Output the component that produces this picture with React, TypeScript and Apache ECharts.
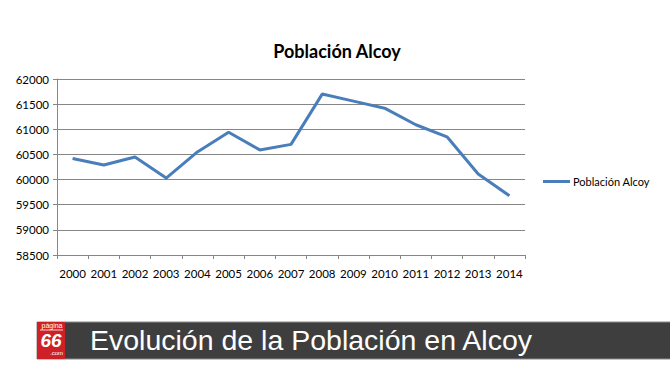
import React, { useEffect, useRef } from "react";
import * as echarts from "echarts";

const years = ["2000","2001","2002","2003","2004","2005","2006","2007","2008","2009","2010","2011","2012","2013","2014"];
const poblacion = [60420, 60290, 60450, 60030, 60550, 60940, 60590, 60700, 61700, 61560, 61420, 61090, 60850, 60110, 59680];
const seriesName = "Población Alcoy";
const chartTitle = "Población Alcoy";
const bannerText = "Evolución de la Población en Alcoy";

export default function App() {
  const ref = useRef<HTMLDivElement>(null);
  useEffect(() => {
    document.body.style.margin = "0";
    const chart = echarts.init(ref.current!, null, { renderer: "svg" });
    chart.setOption({
      animation: false,
      backgroundColor: "#ffffff",
      title: {
        text: chartTitle,
        left: 332,
        textAlign: "center",
        top: 37,
        textStyle: { fontFamily: "Lato", fontWeight: "bold", fontSize: 18, color: "#000" },
      },
      legend: {
        data: [seriesName],
        left: 538,
        top: 171,
        icon: "rect",
        itemWidth: 27,
        itemHeight: 3,
        textStyle: { fontFamily: "Lato", fontSize: 11, color: "#000", padding: [0, 0, 0, -2] },
      },
      grid: { left: 57, right: 145, top: 79, bottom: 122, containLabel: false },
      xAxis: {
        type: "category",
        data: years,
        boundaryGap: true,
        axisLine: { lineStyle: { color: "#868686", width: 1 } },
        axisTick: { show: true, length: 4, lineStyle: { color: "#868686" } },
        axisLabel: { fontFamily: "Lato", fontSize: 11.5, color: "#000", margin: 12, interval: 0 },
        splitLine: { show: false },
      },
      yAxis: {
        type: "value",
        min: 58500,
        max: 62000,
        interval: 500,
        axisLine: { show: true, lineStyle: { color: "#868686", width: 1 } },
        axisTick: { show: true, length: 4, lineStyle: { color: "#868686" } },
        axisLabel: { fontFamily: "Lato", fontSize: 11.5, color: "#000", margin: 8, formatter: (v: number) => String(v) },
        splitLine: { show: true, lineStyle: { color: "#868686", width: 1 } },
      },
      series: [
        {
          name: seriesName,
          type: "line",
          data: poblacion,
          symbol: "none",
          lineStyle: { color: "#4a7ebb", width: 3 },
          itemStyle: { color: "#4a7ebb" },
        },
      ],
      graphic: [
        {
          type: "rect",
          shape: { x: 37, y: 322, width: 640, height: 37 },
          style: { fill: "#3e3e3e", stroke: "#8a8a8a", lineWidth: 1 },
        },
        {
          type: "rect",
          shape: { x: 37, y: 322, width: 28, height: 37 },
          style: { fill: "#cf2027" },
        },
        {
          type: "text",
          x: 52,
          y: 322,
          style: { text: "página", fill: "#fff", font: "7px Liberation Sans", align: "center", verticalAlign: "top" },
        },
        {
          type: "line",
          shape: { x1: 40, y1: 330, x2: 63, y2: 330 },
          style: { stroke: "#fff", lineWidth: 0.8 },
        },
        {
          type: "text",
          x: 51,
          y: 331,
          style: { text: "66", fill: "#fff", font: "italic bold 19px Liberation Sans", align: "center", verticalAlign: "top" },
        },
        {
          type: "text",
          x: 63,
          y: 350,
          style: { text: ".com", fill: "#fff", font: "6px Liberation Sans", align: "right", verticalAlign: "top" },
        },
        {
          type: "text",
          x: 90,
          y: 340,
          style: { text: bannerText, fill: "#fff", font: "28.5px Liberation Sans", align: "left", verticalAlign: "middle" },
        },
      ],
    });
    return () => chart.dispose();
  }, []);
  return <div ref={ref} style={{ width: 670, height: 377, position: "absolute", left: 0, top: 0 }} />;
}
